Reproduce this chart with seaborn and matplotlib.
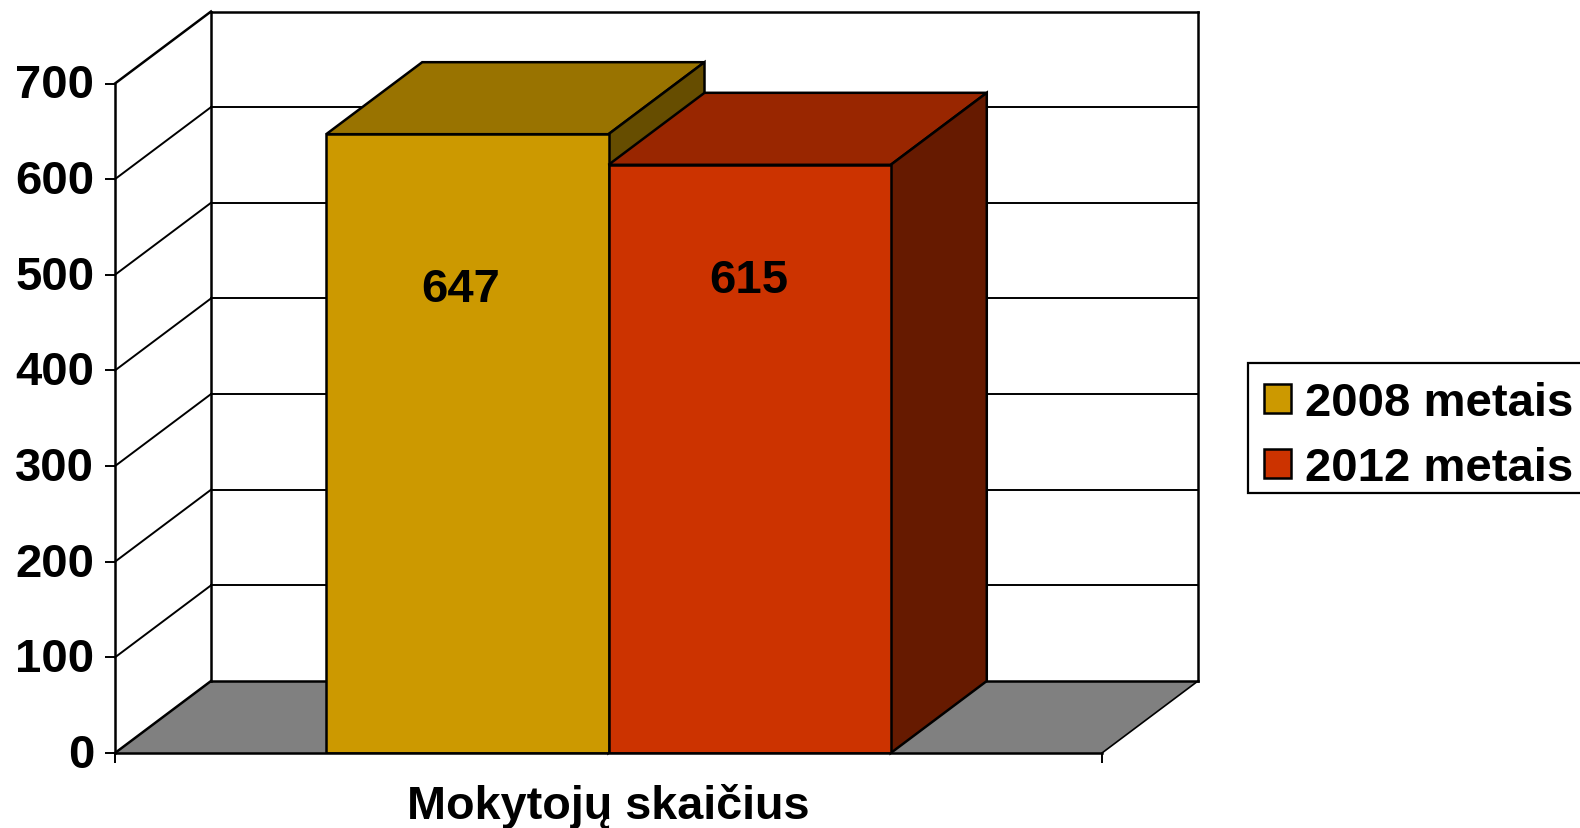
import matplotlib
matplotlib.use("Agg")
import matplotlib.pyplot as plt
import matplotlib.transforms as mtrans
import pandas as pd
import seaborn as sns
from matplotlib.patches import Polygon, Rectangle

category = ["Mokytojų skaičius"]
years = ["2008 metais", "2012 metais"]
values = [647, 615]
y_ticks = [0, 100, 200, 300, 400, 500, 600, 700]

front_colors = ["#CC9900", "#CC3300"]
top_colors = ["#997300", "#992600"]
side_colors = ["#664D00", "#661A00"]
floor_color = "#808080"

W, H = 1580, 829
LEFT, RIGHT, BOTTOM, TOP = 115, 1102, 754, 84.5  # front plane, in pixels
DEPTH_X = 96 / (RIGHT - LEFT)
DEPTH_Y = 72 / (BOTTOM - TOP) * 700
LW = 1.8
FS = 34

sns.set_theme(style="white")
plt.rcParams["font.family"] = ["Liberation Sans", "DejaVu Sans"]
plt.rcParams["font.weight"] = "bold"
plt.rcParams["text.color"] = "black"

df = pd.DataFrame({"kategorija": category * 2, "metai": years, "reiksme": values})

fig = plt.figure(figsize=(W / 100, H / 100), dpi=100)
ax = fig.add_axes([LEFT / W, 1 - BOTTOM / H, (RIGHT - LEFT) / W, (BOTTOM - TOP) / H])
ax.patch.set_alpha(0)

sns.barplot(data=df, x="kategorija", y="reiksme", hue="metai", hue_order=years,
            palette=front_colors, saturation=1, width=0.572, gap=0, dodge=True,
            edgecolor="black", linewidth=LW, ax=ax)
ax.set_xlim(-0.5, 0.5)
ax.set_ylim(0, 700)


def wall_line(xs, ys, lw=1.5, z=1):
    ax.plot(xs, ys, color="black", lw=lw, clip_on=False, zorder=z, solid_capstyle="projecting")


# floor
ax.add_patch(Polygon([(-0.5, 0), (0.5, 0), (0.5 + DEPTH_X, DEPTH_Y), (-0.5 + DEPTH_X, DEPTH_Y)],
                     closed=True, facecolor=floor_color, edgecolor="none", clip_on=False, zorder=0.5))

# back wall and left wall
for t in y_ticks:
    wall_line([-0.5, -0.5 + DEPTH_X], [t, t + DEPTH_Y], lw=LW if t in (0, 700) else 1.4)
    wall_line([-0.5 + DEPTH_X, 0.5 + DEPTH_X], [t + DEPTH_Y, t + DEPTH_Y], lw=LW if t in (0, 700) else 1.4)
wall_line([-0.5 + DEPTH_X] * 2, [DEPTH_Y, 700 + DEPTH_Y], lw=LW)
wall_line([0.5 + DEPTH_X] * 2, [DEPTH_Y, 700 + DEPTH_Y], lw=LW)
wall_line([0.5, 0.5 + DEPTH_X], [0, DEPTH_Y], lw=1.2)

# bar faces, 2008 first so 2012 sits in front of it
label_drop = [155, 115]
label_shift = [-7, -1]
for i, bar in enumerate(ax.patches[:2]):
    x0, w, h = bar.get_x(), bar.get_width(), bar.get_height()
    z = 3 + i
    bar.set_zorder(z + 0.2)
    ax.add_patch(Polygon([(x0, h), (x0 + w, h), (x0 + w + DEPTH_X, h + DEPTH_Y), (x0 + DEPTH_X, h + DEPTH_Y)],
                         closed=True, facecolor=top_colors[i], edgecolor="black", lw=LW,
                         clip_on=False, zorder=z, joinstyle="miter"))
    ax.add_patch(Polygon([(x0 + w, 0), (x0 + w + DEPTH_X, DEPTH_Y), (x0 + w + DEPTH_X, h + DEPTH_Y), (x0 + w, h)],
                         closed=True, facecolor=side_colors[i], edgecolor="black", lw=LW,
                         clip_on=False, zorder=z, joinstyle="miter"))
    ax.annotate(str(values[i]), xy=(x0 + w / 2, h), xytext=(label_shift[i] * 0.72, -label_drop[i] * 0.72),
                textcoords="offset points", ha="center", va="center",
                fontsize=FS, fontweight="bold", color="black", zorder=10)

for side in ["top", "right"]:
    ax.spines[side].set_visible(False)
for side in ["left", "bottom"]:
    ax.spines[side].set_linewidth(LW)
    ax.spines[side].set_color("black")
    ax.spines[side].set_zorder(6)

ax.set_yticks(y_ticks)
ax.set_xticks([-0.5, 0.5], ["", ""])
ax.tick_params(axis="both", which="major", direction="out", length=7.2, width=1.4, color="black",
               left=True, bottom=True, labelsize=FS, pad=7.6, labelcolor="black")
# labels sit a little above their ticks in the original
nudge = mtrans.ScaledTranslation(0, 3 / 100, fig.dpi_scale_trans)
for lab in ax.get_yticklabels():
    lab.set_fontweight("bold")
    lab.set_transform(lab.get_transform() + nudge)
ax.set_ylabel("")
ax.set_xlabel(category[0], fontsize=33.7, fontweight="bold", color="black", labelpad=7)

# legend box runs off the right edge of the picture
fig.add_artist(Rectangle((1248 / W, 1 - 494 / H), 400 / W, 130 / H, transform=fig.transFigure,
                         facecolor="white", edgecolor="black", lw=1.6, zorder=5))
ax.legend(loc="upper left", bbox_to_anchor=(1264 / W, 1 - 382 / H), bbox_transform=fig.transFigure,
          borderaxespad=0, frameon=False, prop={"size": FS, "weight": "bold"}, labelcolor="black",
          handlelength=0.57, handleheight=0.57, handletextpad=0.3, borderpad=0, labelspacing=0.44)
ax.get_legend().set_zorder(20)
ax.set_zorder(6)

fig.savefig("out.png", dpi=100)
